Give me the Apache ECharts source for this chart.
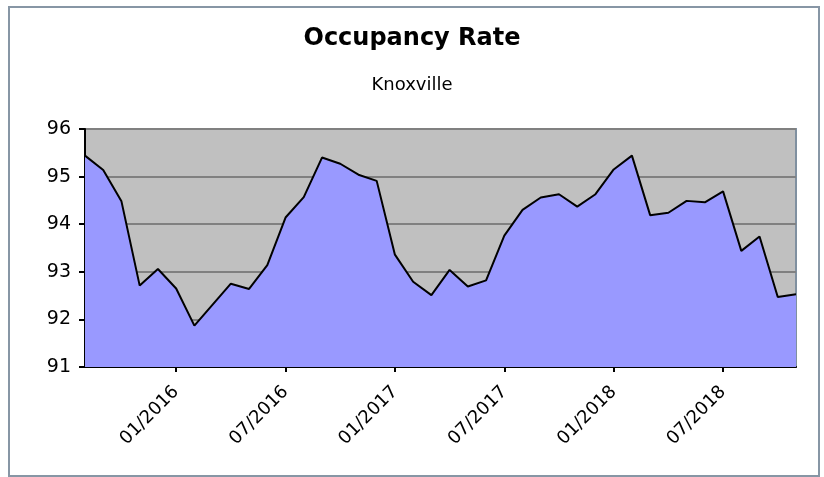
<!DOCTYPE html>
<html><head><meta charset="utf-8">
<script src="https://cdn.jsdelivr.net/npm/echarts@6/dist/echarts.min.js"></script>
<style>html,body{margin:0;padding:0;background:#fff}#c{width:824px;height:477px}</style>
</head><body><div id="c"></div>
<script>
const months = ["08/2015","09/2015","10/2015","11/2015","12/2015","01/2016","02/2016","03/2016","04/2016","05/2016","06/2016","07/2016","08/2016","09/2016","10/2016","11/2016","12/2016","01/2017","02/2017","03/2017","04/2017","05/2017","06/2017","07/2017","08/2017","09/2017","10/2017","11/2017","12/2017","01/2018","02/2018","03/2018","04/2018","05/2018","06/2018","07/2018","08/2018","09/2018","10/2018","11/2018"];
const occupancy = [95.44,95.14,94.48,92.71,93.06,92.65,91.87,92.31,92.75,92.64,93.14,94.14,94.57,95.4,95.27,95.04,94.91,93.36,92.79,92.51,93.04,92.69,92.82,93.76,94.30,94.56,94.63,94.37,94.63,95.15,95.44,94.19,94.24,94.49,94.46,94.69,93.44,93.74,92.47,92.53];
const titleText = "Occupancy Rate";
const subtitleText = "Knoxville";
const yMin = 91, yMax = 96, yStep = 1;

const chart = echarts.init(document.getElementById('c'), null, {renderer:'canvas'});
const showIdx = (i) => (i - 5) % 6 === 0 && i >= 5;
chart.setOption({
  animation:false,
  backgroundColor:'#ffffff',
  graphic:[{type:'rect',shape:{x:9,y:7,width:810,height:469},style:{fill:'none',stroke:'#8796a5',lineWidth:2},z:-1}],
  title:[
    {text:titleText,left:'center',top:22,textStyle:{fontFamily:'DejaVu Sans',fontWeight:'bold',fontSize:24,color:'#000'}},
    {text:subtitleText,left:'center',top:71,textStyle:{fontFamily:'DejaVu Sans',fontWeight:'normal',fontSize:18,color:'#000'}}
  ],
  grid:{left:85,right:28,top:129,bottom:110,show:true,backgroundColor:'#c0c0c0',borderColor:'#8090a0',borderWidth:2},
  xAxis:{type:'category',data:months,boundaryGap:false,
    axisLine:{lineStyle:{color:'#000',width:2}},
    axisTick:{show:true,length:5,interval:(i)=>showIdx(i),lineStyle:{color:'#000',width:2}},
    axisLabel:{interval:(i)=>showIdx(i),rotate:45,margin:22,fontFamily:'DejaVu Sans',fontSize:18,color:'#000'},
    splitLine:{show:false}},
  yAxis:{type:'value',min:yMin,max:yMax,interval:yStep,
    axisLine:{show:true,lineStyle:{color:'#000',width:2}},
    axisTick:{show:true,length:6,lineStyle:{color:'#000',width:2}},
    axisLabel:{fontFamily:'DejaVu Sans',fontSize:19,color:'#000',margin:14},
    splitLine:{show:true,lineStyle:{color:'#808080',width:2}}},
  series:[{type:'line',data:occupancy,symbol:'none',
    lineStyle:{color:'#000',width:2},
    areaStyle:{color:'#9999ff',opacity:1},z:3}]
});
</script></body></html>
